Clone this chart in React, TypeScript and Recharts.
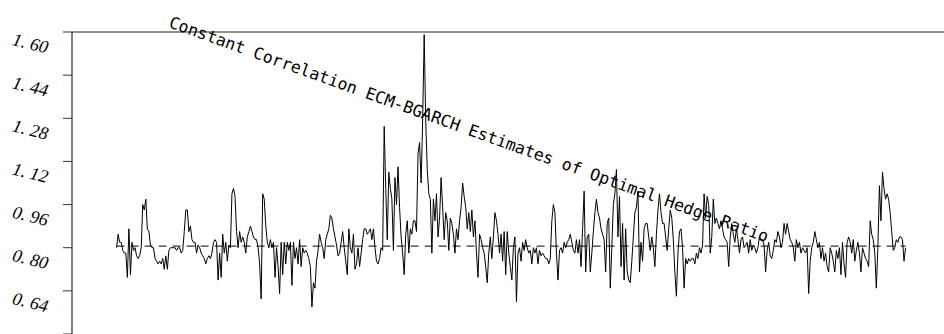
import { LineChart, Line, XAxis, YAxis, ReferenceLine } from "recharts"

const hedgeRatio: number[] = [
  0.8, 0.85, 0.82, 0.82, 0.79, 0.78, 0.78, 0.69, 0.87, 0.7,
  0.82, 0.79, 0.8, 0.77, 0.76, 0.77, 0.8, 0.96, 0.94, 0.98,
  0.87, 0.86, 0.81, 0.8, 0.8, 0.76, 0.75, 0.74, 0.75, 0.74,
  0.76, 0.72, 0.77, 0.72, 0.79, 0.8, 0.8, 0.8, 0.8, 0.79, 0.8,
  0.8, 0.78, 0.79, 0.86, 0.94, 0.94, 0.86, 0.88, 0.83, 0.82,
  0.82, 0.78, 0.81, 0.8, 0.78, 0.77, 0.76, 0.74, 0.76, 0.77,
  0.76, 0.78, 0.82, 0.83, 0.82, 0.68, 0.78, 0.69, 0.85, 0.78,
  0.82, 0.75, 0.81, 0.8, 1.0, 1.02, 0.99, 0.86, 0.8, 0.86,
  0.82, 0.84, 0.82, 0.78, 0.84, 0.86, 0.88, 0.86, 0.84, 0.83, 0.83,
  0.8, 0.74, 0.61, 1.0, 0.98, 0.88, 0.82, 0.8, 0.83, 0.8,
  0.82, 0.69, 0.8, 0.73, 0.63, 0.82, 0.7, 0.82, 0.74, 0.82,
  0.79, 0.82, 0.66, 0.82, 0.76, 0.8, 0.74, 0.83, 0.73, 0.8,
  0.78, 0.79, 0.78, 0.76, 0.73, 0.58, 0.67, 0.65, 0.75, 0.79,
  0.85, 0.82, 0.8, 0.76, 0.83, 0.85, 0.87, 0.92, 0.91, 0.87,
  0.84, 0.81, 0.77, 0.78, 0.82, 0.86, 0.8, 0.75, 0.7, 0.87,
  0.8, 0.78, 0.85, 0.72, 0.74, 0.8, 0.73, 0.78, 0.83, 0.87,
  0.87, 0.85, 0.86, 0.87, 0.83, 0.87, 0.8, 0.75, 0.74, 0.76,
  0.8, 0.79,
  1.25, 1.02, 0.83, 1.08, 1.02, 0.98, 0.79, 1.06, 0.96, 1.1,
  0.95, 0.84, 0.78, 0.7, 0.85, 0.9, 0.78, 0.87, 0.85, 0.9,
  0.9, 0.86, 1.15, 1.19, 1.04, 1.27, 1.59, 1.27, 1.09,
  1.0, 0.98, 0.78, 0.98, 0.9, 1.0, 0.84, 0.91, 1.06, 0.95,
  0.83, 0.93, 0.9, 0.79, 0.91, 0.89, 0.85, 0.78, 0.87, 0.83,
  0.9, 0.95, 1.04, 0.99, 0.95, 0.87, 0.93, 0.86, 0.94,
  0.84, 0.9, 0.78, 0.69, 0.85, 0.83, 0.8, 0.78, 0.73, 0.67,
  0.78, 0.84, 0.76, 0.84, 0.93, 0.9, 0.85, 0.78, 0.85, 0.75,
  0.86, 0.7, 0.86, 0.78, 0.73, 0.68, 0.8, 0.84, 0.6,
  0.78,
  0.8, 0.75, 0.82, 0.79, 0.83, 0.8, 0.78, 0.79, 0.74, 0.8,
  0.78, 0.8, 0.74, 0.79, 0.77, 0.78, 0.77, 0.76, 0.76, 0.74,
  0.76, 0.9, 0.96, 0.93, 0.78, 0.68, 0.79, 0.8, 0.78, 0.82,
  0.8, 0.82, 0.83, 0.85, 0.82, 0.79, 0.78, 0.83, 0.78, 0.83,
  0.73, 0.87, 1.01, 0.71, 0.84, 0.85, 0.71, 0.78, 0.86, 0.93,
  0.98, 0.93, 0.91, 0.87, 0.85, 0.83, 0.71, 0.89, 0.91, 0.65,
  0.8, 0.96, 1.0, 1.09, 0.84, 0.99, 0.73, 0.89, 0.68, 0.87,
  0.71, 0.68, 0.67, 0.75, 0.84, 0.93, 0.95, 1.01, 0.71, 0.82,
  0.75, 0.87, 0.89, 0.89, 0.84, 0.79,
  0.84, 0.8, 0.73, 0.85, 0.94, 1.0, 0.93, 0.89, 0.89, 0.84,
  0.79, 0.87, 0.94, 0.91, 0.83, 0.71, 0.62, 0.78, 0.86, 0.87,
  0.8, 0.65, 0.76, 0.74, 0.76, 0.75, 0.76, 0.76, 0.74, 0.78, 0.76,
  0.8, 0.78, 0.81, 1.0, 0.91, 0.99, 0.96, 0.78, 0.84, 0.98,
  0.89, 0.91, 0.89, 0.87, 0.9, 0.87, 0.84, 0.83, 0.82, 0.73,
  0.84, 0.89, 0.85, 0.82, 0.87, 0.83, 0.78, 0.83, 0.84, 0.8, 0.81,
  0.82, 0.78, 0.83, 0.79, 0.81, 0.8, 0.78, 0.8, 0.84, 0.83, 0.83,
  0.81, 0.71, 0.79, 0.82, 0.77, 0.76, 0.79, 0.83, 0.82, 0.86, 0.84,
  0.8, 0.82, 0.89,
  0.85, 0.89, 0.86, 0.83, 0.82, 0.8, 0.75, 0.83, 0.8, 0.82,
  0.78, 0.8, 0.79, 0.78, 0.8, 0.63, 0.75, 0.8,
  0.82, 0.86, 0.83, 0.8, 0.82, 0.76, 0.8, 0.75, 0.78,
  0.73, 0.71, 0.8, 0.78, 0.75, 0.71, 0.79, 0.76, 0.8,
  0.7, 0.82, 0.74, 0.69, 0.82, 0.84, 0.82, 0.78, 0.83,
  0.75, 0.79, 0.82, 0.78, 0.71, 0.8, 0.78, 0.76,
  0.75, 0.73, 0.9, 0.85, 0.83, 0.78, 0.65, 0.8, 1.03,
  0.9, 1.08, 1.02, 0.98, 1.0, 0.98, 0.93, 0.86, 0.79, 0.8,
  0.83, 0.82, 0.84, 0.84, 0.83, 0.75, 0.8,
]

// constant correlation model mean (dashed line)
const meanRatio = 0.806

const yTicks = [0.48, 0.64, 0.8, 0.96, 1.12, 1.28, 1.44, 1.6]

const title = "Constant Correlation ECM-BGARCH Estimates of Optimal Hedge Ratio"

const data = hedgeRatio.map((v, i) => ({ i, v }))
const lastIndex = hedgeRatio.length - 1

function formatTick(value: number) {
  return value.toFixed(2).replace(".", ". ")
}

function YTick(props: any) {
  const { y, payload } = props
  return (
    <text
      x={13}
      y={y + 13}
      transform={`rotate(14 13 ${y + 7})`}
      fontFamily="Liberation Serif"
      fontStyle="italic"
      fontSize={18}
      fill="#000"
    >
      {formatTick(payload.value)}
    </text>
  )
}

export default function App() {
  return (
    <div
      style={{
        position: "fixed",
        left: 0,
        top: 0,
        width: 944,
        height: 334,
        overflow: "hidden",
        background: "#fff",
      }}
    >
      <LineChart
        width={944}
        height={360}
        data={data}
        margin={{ top: 32, right: 0, bottom: 26, left: 0 }}
      >
        <XAxis type="number" dataKey="i" domain={[-29, 538]} hide />
        <YAxis
          type="number"
          width={72}
          domain={[0.48, 1.6]}
          ticks={yTicks}
          interval={0}
          tickSize={9}
          axisLine={{ stroke: "#000" }}
          tickLine={{ stroke: "#333" }}
          tick={<YTick />}
          allowDataOverflow
        />
        <ReferenceLine y={1.6} stroke="#222" />
        <ReferenceLine
          segment={[
            { x: 0, y: meanRatio },
            { x: lastIndex, y: meanRatio },
          ]}
          stroke="#000"
          strokeDasharray="8 6"
        />
        <Line
          type="linear"
          dataKey="v"
          stroke="#000"
          strokeWidth={1}
          dot={false}
          isAnimationActive={false}
        />
      </LineChart>
      <svg
        width={944}
        height={334}
        style={{ position: "absolute", left: 0, top: 0, pointerEvents: "none" }}
      >
        <text
          x={168}
          y={27}
          transform="rotate(19.8 168 27)"
          fontFamily="DejaVu Sans Mono"
          fontSize={16.5}
          fill="#000"
        >
          {title}
        </text>
      </svg>
    </div>
  )
}
